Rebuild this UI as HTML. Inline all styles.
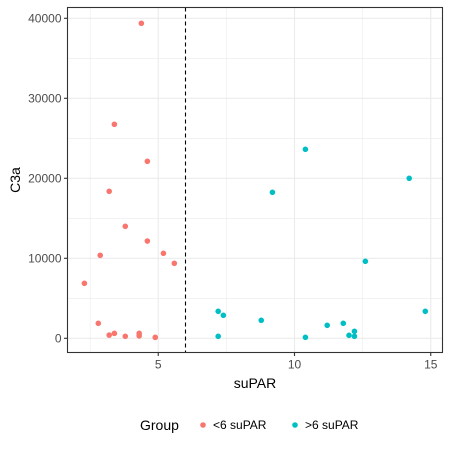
<!DOCTYPE html>
<html><head><meta charset="utf-8"><style>
body{margin:0;background:#fff}
svg{display:block;font-family:"Liberation Sans",sans-serif}
</style></head><body>
<svg id="c" width="450" height="450"></svg>
<script>
const redX=[4.38,3.39,4.6,3.2,3.79,4.6,2.87,5.19,5.59,2.29,2.8,3.2,3.39,3.79,4.3,4.3,4.89];
const redY=[39375,26750,22125,18375,14000,12160,10375,10625,9375,6875,1875,400,620,250,620,300,120];
const blueX=[10.4,9.19,14.21,12.6,7.2,7.39,14.8,8.78,7.2,10.4,11.2,11.79,12.0,12.2,12.2];
const blueY=[23625,18250,20000,9625,3375,2875,3375,2250,250,125,1625,1875,375,875,250];
const xTicks=[5,10,15];
const yTicks=[0,10000,20000,30000,40000];
const cutoff=6;
const L=67.5,R=442.5,T=7.5,B=352.5;
const sx=v=>22+v*27.25, sy=v=>338.3-v*0.008;
const svg=document.getElementById('c');const NS='http://www.w3.org/2000/svg';
function mk(t,a,p){const e=document.createElementNS(NS,t);for(const k in a)e.setAttribute(k,a[k]);(p||svg).appendChild(e);return e;}
// grid minor
for(let v=2.5;v<=15;v+=5){const g=mk('line',{x1:sx(v),x2:sx(v),y1:T,y2:B,stroke:'#ebebeb','stroke-width':0.6});}
for(let v=5000;v<=40000;v+=10000){const g=mk('line',{x1:L,x2:R,y1:sy(v),y2:sy(v),stroke:'#ebebeb','stroke-width':0.6});}
xTicks.forEach(v=>{const g=mk('line',{x1:sx(v),x2:sx(v),y1:T,y2:B,stroke:'#ebebeb','stroke-width':1.1});
const t=mk('line',{x1:sx(v),x2:sx(v),y1:B,y2:B+3.5,stroke:'#333','stroke-width':1.1});
const l=mk('text',{x:sx(v),y:B+16,'text-anchor':'middle','font-size':12,fill:'#4d4d4d'});l.textContent=v;});
yTicks.forEach(v=>{const g=mk('line',{x1:L,x2:R,y1:sy(v),y2:sy(v),stroke:'#ebebeb','stroke-width':1.1});
const t=mk('line',{x1:L-3.5,x2:L,y1:sy(v),y2:sy(v),stroke:'#333','stroke-width':1.1});
const l=mk('text',{x:L-6,y:sy(v)+4,'text-anchor':'end','font-size':12,fill:'#4d4d4d'});l.textContent=v;});
const d=mk('line',{x1:sx(cutoff),x2:sx(cutoff),y1:T,y2:B,stroke:'#000','stroke-width':1.1,'stroke-dasharray':'4,3'});

redX.forEach((x,i)=>{const c=mk('circle',{cx:sx(x),cy:sy(redY[i]),r:2.8,fill:'#F8766D'});});
blueX.forEach((x,i)=>{const c=mk('circle',{cx:sx(x),cy:sy(blueY[i]),r:2.8,fill:'#00BFC4'});});
const f=mk('rect',{x:L,y:T,width:R-L,height:B-T,fill:'none',stroke:'#333','stroke-width':1.1});
</script>
<svg style="position:absolute;left:0;top:0" width="450" height="450">
<text x="255" y="388" text-anchor="middle" font-size="14" fill="#000">suPAR</text>
<text transform="translate(20,180) rotate(-90)" text-anchor="middle" font-size="14" fill="#000">C3a</text>
<g>
<text x="140" y="430" font-size="14">Group</text>
<g><circle cx="203" cy="425" r="2.8" fill="#F8766D"/><text x="213" y="429" font-size="12">&lt;6 suPAR</text></g>
<g><circle cx="295" cy="425" r="2.8" fill="#00BFC4"/><text x="305" y="429" font-size="12">&gt;6 suPAR</text></g>
</g>
</svg>
</body></html>
